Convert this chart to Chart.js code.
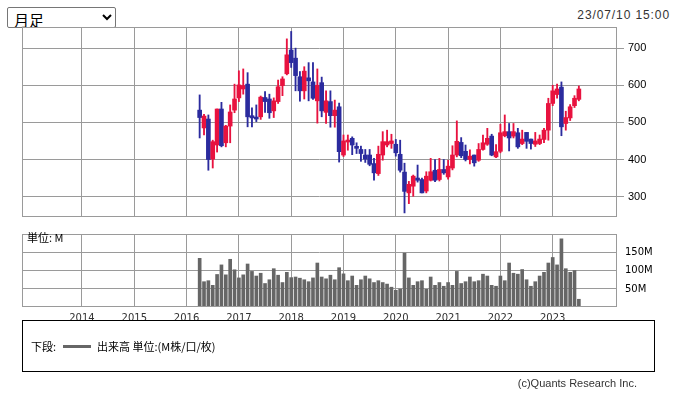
<!DOCTYPE html>
<html>
<head>
<meta charset="utf-8">
<script src="https://cdn.jsdelivr.net/npm/chart.js@4.4.0/dist/chart.umd.min.js"></script>
<style>
body{margin:0;background:#fff;width:674px;height:394px;position:relative;overflow:hidden;font-family:"Liberation Sans",Arial,sans-serif}
#period{position:absolute;left:7px;top:7px;width:109px;height:21px;font-size:15px;font-family:"Noto Sans CJK JP",sans-serif;padding:0 2px;background:#fff;border:1px solid #767676;border-radius:2px;color:#000}
#stamp{position:absolute;right:4px;top:8px;font-size:12px;letter-spacing:.9px;color:#333}
#priceCanvas{position:absolute;left:0;top:0}
#volCanvas{position:absolute;left:0;top:220px}
#unit{position:absolute;left:27px;top:229px;font-size:11px;font-family:"Noto Sans CJK JP",sans-serif;color:#000}
#legend{position:absolute;left:22px;top:320px;width:633px;height:52px;box-sizing:border-box;border:1px solid #000;font-size:11px;font-family:"Noto Sans CJK JP",sans-serif;color:#000}
#legend span{position:absolute;top:17px}
#legend i{position:absolute;left:40px;top:24px;width:28px;height:3px;background:#666}
#copy{position:absolute;right:37px;top:377px;font-size:11px;color:#333}
</style>
</head>
<body>
<select id="period"><option>月足</option></select>
<div id="stamp">23/07/10 15:00</div>
<canvas id="priceCanvas" width="674" height="230"></canvas>
<canvas id="volCanvas" width="674" height="106"></canvas>
<div id="unit">単位: M</div>
<div id="legend"><span style="left:8px">下段:</span><i></i><span style="left:74px">出来高 単位:(M株/口/枚)</span></div>
<div id="copy">(c)Quants Research Inc.</div>
<script>
// monthly candles, Apr 2016 - Jul 2023
const months = [
  '2016-04','2016-05','2016-06','2016-07','2016-08','2016-09','2016-10','2016-11','2016-12',
  '2017-01','2017-02','2017-03','2017-04','2017-05','2017-06','2017-07','2017-08','2017-09','2017-10','2017-11','2017-12',
  '2018-01','2018-02','2018-03','2018-04','2018-05','2018-06','2018-07','2018-08','2018-09','2018-10','2018-11','2018-12',
  '2019-01','2019-02','2019-03','2019-04','2019-05','2019-06','2019-07','2019-08','2019-09','2019-10','2019-11','2019-12',
  '2020-01','2020-02','2020-03','2020-04','2020-05','2020-06','2020-07','2020-08','2020-09','2020-10','2020-11','2020-12',
  '2021-01','2021-02','2021-03','2021-04','2021-05','2021-06','2021-07','2021-08','2021-09','2021-10','2021-11','2021-12',
  '2022-01','2022-02','2022-03','2022-04','2022-05','2022-06','2022-07','2022-08','2022-09','2022-10','2022-11','2022-12',
  '2023-01','2023-02','2023-03','2023-04','2023-05','2023-06','2023-07'
];
const opens  = [533,485,509,401,439,536,445,490,533, 566,590,603,518,512,515,567,563,531,556,599,631, 695,673,623,585,620,609,558,607,527,556,518,542, 412,447,457,434,427,412,412,389,362,412,439,443, 441,414,366,310,328,350,346,315,344,371,346,373, 353,377,412,446,422,400,412,398,427,441,463,407, 422,464,475,463,472,443,473,455,441,443,454,479, 551,575,595,497,512,545,562];
const highs  = [574,522,520,452,536,554,492,547,603, 639,644,634,539,547,571,583,576,566,614,623,725, 745,700,637,650,661,661,644,622,585,585,560,552, 466,466,461,445,436,427,427,403,436,475,479,468, 454,452,390,341,358,385,350,367,403,400,403,400, 398,437,504,459,439,426,412,443,466,484,468,440, 495,520,497,497,484,479,473,455,473,466,484,565, 600,603,609,530,548,572,598];
const lows   = [458,466,371,377,420,434,434,445,526, 556,576,488,488,502,508,527,511,513,551,572,628, 648,585,557,563,558,562,498,515,497,487,487,393, 408,425,413,416,395,392,383,344,357,398,434,430, 409,366,256,281,301,339,310,310,342,340,342,360, 347,372,407,405,396,388,382,395,425,438,410,405, 418,461,423,458,430,440,430,428,435,440,445,452, 545,565,464,479,505,540,558];
const closes = [513,517,400,448,536,437,490,528,563, 601,599,515,512,509,568,556,526,558,596,617,682, 661,626,585,638,612,565,600,531,558,518,533,421, 450,452,439,430,416,401,387,364,414,448,448,450, 418,371,314,333,355,344,310,355,367,344,373,364, 382,412,449,410,400,409,391,427,445,457,412,421, 472,475,458,475,434,455,449,443,450,455,479,551, 585,590,488,513,542,565,590];
const volumes = [134.6,70,72.8,60,90,116.5,89,132,103, 80.5,89,119,98.5,85.7,93.4,65,75.4,106,88,67.7,96, 81.3,83,79.7,75.4,70,80.5,121.7,83,78,88,75.4,108.8,
  91.7,72.8,85.7,60,75.4,85.7,78,67.7,72.8,67.7,63.4,54.8, 46.3,49.6,149,80.5,60,70,72.8,48.9,83,60,67.7,57.4,
  67.7,60,98.5,65,70,83,70,72.8,90.8,85.7,60,57.4, 85.7,72.8,121.7,93.4,90.8,103.7,75.4,57.4,70,85.7,96,121.7,
  137,116.5,188.6,106,96,101,21.4];
const yearTicks = [2014,2015,2016,2017,2018,2019,2020,2021,2022,2023];
const priceTicks = [300,400,500,600,700];
const volumeTicks = [50,100,150];

const RED = '#e8123f', BLUE = '#2b2b9e', GRID = '#9a9a9a';
const X_MIN = -13.76, X_MAX = 122.75;   // months from Jan 2014

function monthPos(s){ const [y,m] = s.split('-').map(Number); return (y-2014)*12 + (m-1); }
const xs = months.map(monthPos);
const candleColor = opens.map((o,i)=> closes[i] >= o ? RED : BLUE);

// thin frame round the plot area
const frame = {
  id:'frame',
  afterDatasetsDraw(chart){
    const a = chart.chartArea, c = chart.ctx;
    c.save(); c.strokeStyle = GRID; c.lineWidth = 1;
    c.strokeRect(Math.round(a.left)+.5, Math.round(a.top)+.5, Math.round(a.right-a.left)-1, Math.round(a.bottom-a.top)-1);
    c.restore();
  }
};

function xAxis(showLabels){
  return {
    type:'linear', min:X_MIN, max:X_MAX, offset:false,
    afterBuildTicks(s){ s.ticks = yearTicks.map(y=>({value:(y-2014)*12})); },
    grid:{color:GRID, drawTicks:false, offset:false},
    border:{display:false},
    ticks:{display:showLabels, autoSkip:false, maxRotation:0, padding:5, color:'#333',
      font:{family:'DejaVu Sans', size:10}, callback:v=>String(2014+Math.round(v/12))},
    afterFit(s){ s.height = showLabels ? 13 : 0; }
  };
}

Chart.defaults.animation = false;

new Chart(document.getElementById('priceCanvas'), {
  type:'bar',
  data:{datasets:[
    {data:xs.map((x,i)=>({x, y:[opens[i], closes[i]]})), backgroundColor:candleColor, barThickness:4, minBarLength:2, grouped:false},
    {data:xs.map((x,i)=>({x, y:[lows[i], highs[i]]})), backgroundColor:candleColor, barThickness:1.2, grouped:false}
  ]},
  options:{
    responsive:false, devicePixelRatio:1,
    layout:{padding:{left:22, top:27, right:0, bottom:13}},
    plugins:{legend:{display:false}, tooltip:{enabled:false}},
    scales:{
      x:xAxis(false),
      y:{position:'right', min:245, max:757,
        afterBuildTicks(s){ s.ticks = priceTicks.map(v=>({value:v})); },
        grid:{color:GRID, tickLength:7}, border:{display:false},
        ticks:{color:'#000', padding:4, font:{family:'Liberation Sans', size:11}},
        afterFit(s){ s.width = 57; }}
    }
  },
  plugins:[frame]
});

new Chart(document.getElementById('volCanvas'), {
  type:'bar',
  data:{datasets:[
    {data:xs.map((x,i)=>({x, y:volumes[i]})), backgroundColor:'#666', barThickness:3, grouped:false}
  ]},
  options:{
    responsive:false, devicePixelRatio:1,
    layout:{padding:{left:22, top:8, right:0, bottom:6}},
    plugins:{legend:{display:false}, tooltip:{enabled:false}},
    scales:{
      x:xAxis(true),
      y:{position:'right', min:0, max:202,
        afterBuildTicks(s){ s.ticks = volumeTicks.map(v=>({value:v})); },
        grid:{color:GRID, drawTicks:false}, border:{display:false},
        ticks:{color:'#000', padding:8, font:{family:'DejaVu Sans', size:10}, callback:v=>v+'M'},
        afterFit(s){ s.width = 57; }}
    }
  },
  plugins:[frame]
});
</script>
</body>
</html>
